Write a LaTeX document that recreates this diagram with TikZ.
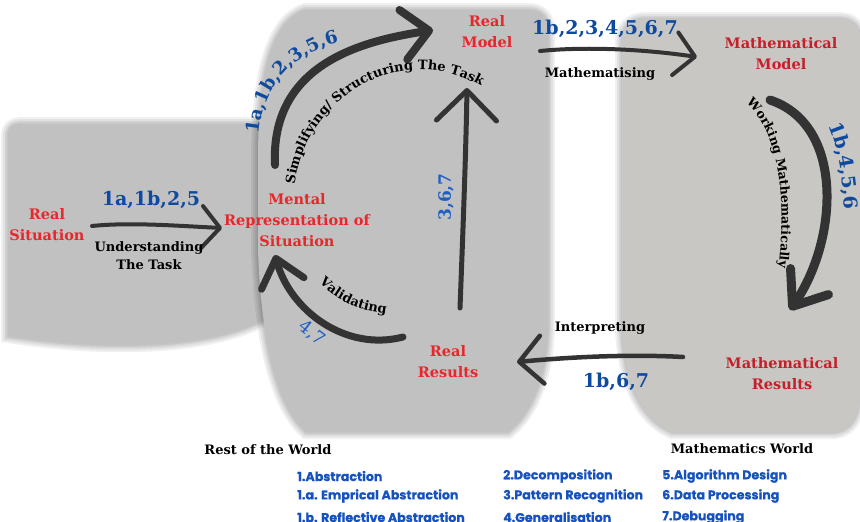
\documentclass[tikz,border=0pt]{standalone}
\usepackage{fontspec}
\setmainfont{DejaVu Serif}
\newfontfamily\legfont{Poppins}[BoldFeatures={FakeBold=0.6}]
\usetikzlibrary{arrows.meta,decorations.text}

\definecolor{boxgray}{HTML}{C1C1C1}
\definecolor{mathgray}{HTML}{C8C7C3}
\definecolor{inkgray}{HTML}{333333}
\definecolor{realred}{HTML}{E8262B}
\definecolor{mathred}{HTML}{C51F2B}
\definecolor{numblue}{HTML}{0E4A9E}
\definecolor{lightblue}{HTML}{1F5FC4}
\definecolor{legblue}{HTML}{1652BE}

% outlines of the three worlds
\def\leftshape{(8,336) -- (8,138) .. controls (8,128) and (12,124) .. (22,124) -- (266,124) -- (266,318) .. controls (215,348) and (110,352) .. cycle}
\def\midshape{(258,250) -- (258,160) .. controls (258,80) and (270,22) .. (305,10) -- (528,10) .. controls (542,10) and (548,18) .. (548,32) -- (548,330) .. controls (546,380) and (530,415) .. (508,432) -- (306,432) .. controls (282,410) and (262,360) .. cycle}
\def\mathshape{(622,330) -- (622,42) .. controls (622,28) and (630,19) .. (646,19) -- (838,19) .. controls (852,19) and (860,26) .. (860,40) -- (860,395) .. controls (858,418) and (850,430) .. (835,432) -- (672,432) .. controls (645,420) and (625,390) .. cycle}

\tikzset{
  lbl/.style={font=\bfseries\fontsize{14.5}{21}\selectfont, align=center, inner sep=0pt},
  reallbl/.style={lbl, text=realred},
  mathlbl/.style={lbl, text=mathred},
  captext/.style={font=\bfseries\fontsize{13}{18}\selectfont, align=center, inner sep=0pt, text=black},
  nums/.style={font=\bfseries\fontsize{19}{19}\selectfont, text=numblue, inner sep=0pt},
  worldtitle/.style={font=\bfseries\fontsize{13}{14}\selectfont, inner sep=0pt},
  legtext/.style={font=\legfont\bfseries\fontsize{12.6}{13}\selectfont, text=legblue, anchor=west, inner sep=0pt},
  brush/.style={draw=inkgray, line cap=round, line join=round},
  softedge/.style={draw=black, opacity=0.06},
}

\begin{document}
\begin{tikzpicture}[x=1pt,y=-1pt]
\useasboundingbox (0,0) rectangle (860,522);
\fill[white] (0,0) rectangle (860,522);

% the three worlds, each with a soft shadow round its edge
\foreach \w in {14,10,6,3} \draw[softedge, line width=\w pt] \leftshape;
\fill[boxgray] \leftshape;
\foreach \w in {14,10,6,3} \draw[softedge, line width=\w pt] \midshape;
\fill[boxgray] \midshape;
\foreach \w in {14,10,6,3} \draw[softedge, line width=\w pt] \mathshape;
\fill[mathgray] \mathshape;

% stages of the cycle
\node[reallbl] (realsit) at (47,225) {Real\\Situation};
\node[reallbl] (mental) at (297,220) {Mental\\Representation of\\Situation};
\node[reallbl] (realmodel) at (487,32) {Real\\Model};
\node[mathlbl] (mathmodel) at (781,54) {Mathematical\\Model};
\node[mathlbl] (mathres) at (782,374) {Mathematical\\Results};
\node[reallbl] (realres) at (448,362) {Real\\Results};

% arrow end points
\coordinate (u1) at (92,226);   \coordinate (u2) at (222,228);
\coordinate (s1) at (275,165);  \coordinate (s2) at (433,30);
\coordinate (m1) at (540,51);   \coordinate (m2) at (697,57);
\coordinate (w1) at (770,100);  \coordinate (w2) at (790,310);
\coordinate (i1) at (683,357);  \coordinate (i2) at (517,362);
\coordinate (r1) at (460,308);  \coordinate (r2) at (467,88);
\coordinate (v1) at (403,337);  \coordinate (v2) at (275,255);

% understanding the task
\draw[brush, line width=4pt, -{Straight Barb[length=18pt,width=42pt,round]}]
  (u1) .. controls (130,222) and (180,226) .. (u2);
\node[nums] (n1) at (151,200) {1a,1b,2,5};
\node[captext] (c1) at (149,256) {Understanding\\The Task};

% simplifying / structuring
\draw[brush, line width=8pt, -{Straight Barb[length=26pt,width=50pt,round]}]
  (s1) .. controls (270,60) and (370,40) .. (s2);
\path[decorate, decoration={text along path, text align=center, text color=numblue,
  text={|\bfseries\fontsize{18}{18}\selectfont|1a,1b,2,3,5,6}}]
  (259,135) .. controls (263,85) and (295,52) .. (340,42);
\path[decorate, decoration={text along path, text align=center, text color=black,
  text={|\bfseries\fontsize{13}{13}\selectfont|Simplifying/ Structuring The Task}}]
  (294,192) .. controls (300,100) and (400,35) .. (488,90);

% mathematising
\draw[brush, line width=4pt, -{Straight Barb[length=20pt,width=43pt,round]}]
  (m1) .. controls (590,46) and (650,50) .. (m2);
\node[nums] (n2) at (605,29) {1b,2,3,4,5,6,7};
\node[captext] (c2) at (600,74) {Mathematising};

% working mathematically
\draw[brush, line width=9pt, -{Straight Barb[length=30pt,width=46pt,round]}]
  (w1) .. controls (845,125) and (838,240) .. (w2);
\path[decorate, decoration={text along path, text align=center, text color=black,
  text={|\bfseries\fontsize{12.5}{12.5}\selectfont|Working Mathematically}}]
  (743,100) .. controls (780,130) and (787,200) .. (778,272);
\path[decorate, decoration={text along path, text align=center, text color=numblue,
  text={|\bfseries\fontsize{19}{19}\selectfont|1b,4,5,6}}]
  (826,120) .. controls (836,140) and (843,170) .. (845,215);

% interpreting
\draw[brush, line width=4.5pt, -{Straight Barb[length=23pt,width=48pt,round]}]
  (i1) .. controls (630,354) and (570,357) .. (i2);
\node[captext] (c3) at (600,328) {Interpreting};
\node[nums] (n3) at (616,382) {1b,6,7};

% real results back to the real model
\draw[brush, line width=5pt, -{Straight Barb[length=30pt,width=60pt,round]}]
  (r1) .. controls (463,230) and (466,150) .. (r2);
\node[font=\bfseries\fontsize{17}{17}\selectfont, text=lightblue, inner sep=0pt, rotate=90] (n4) at (446,197) {3,6,7};

% validating
\draw[brush, line width=7pt, -{Straight Barb[length=26pt,width=44pt,round]}]
  (v1) .. controls (345,352) and (290,310) .. (v2);
\path[decorate, decoration={text along path, text align=center, text color=black,
  text={|\bfseries\fontsize{13}{13}\selectfont|Validating}}]
  (314,277) .. controls (332,299) and (357,312) .. (394,314);
\node[font=\fontsize{18}{18}\selectfont, text=lightblue, inner sep=0pt, rotate=-38] (n5) at (312,333) {4,7};

% world titles
\node[worldtitle] (restw) at (268,450) {Rest of the World};
\node[worldtitle] (mathw) at (742,449) {Mathematics World};

% legend of the computational thinking skills
\node[legtext] (l1) at (297,476) {1.Abstraction};
\node[legtext] (l2) at (297,496) {1.a. Emprical Abstraction};
\node[legtext] (l3) at (297,517) {1.b. Reflective Abstraction};
\node[legtext] (l4) at (503,476) {2.Decomposition};
\node[legtext] (l5) at (503,496) {3.Pattern Recognition};
\node[legtext] (l6) at (503,517) {4.Generalisation};
\node[legtext] (l7) at (662,476) {5.Algorithm Design};
\node[legtext] (l8) at (662,496) {6.Data Processing};
\node[legtext] (l9) at (662,517) {7.Debugging};
\end{tikzpicture}
\end{document}
